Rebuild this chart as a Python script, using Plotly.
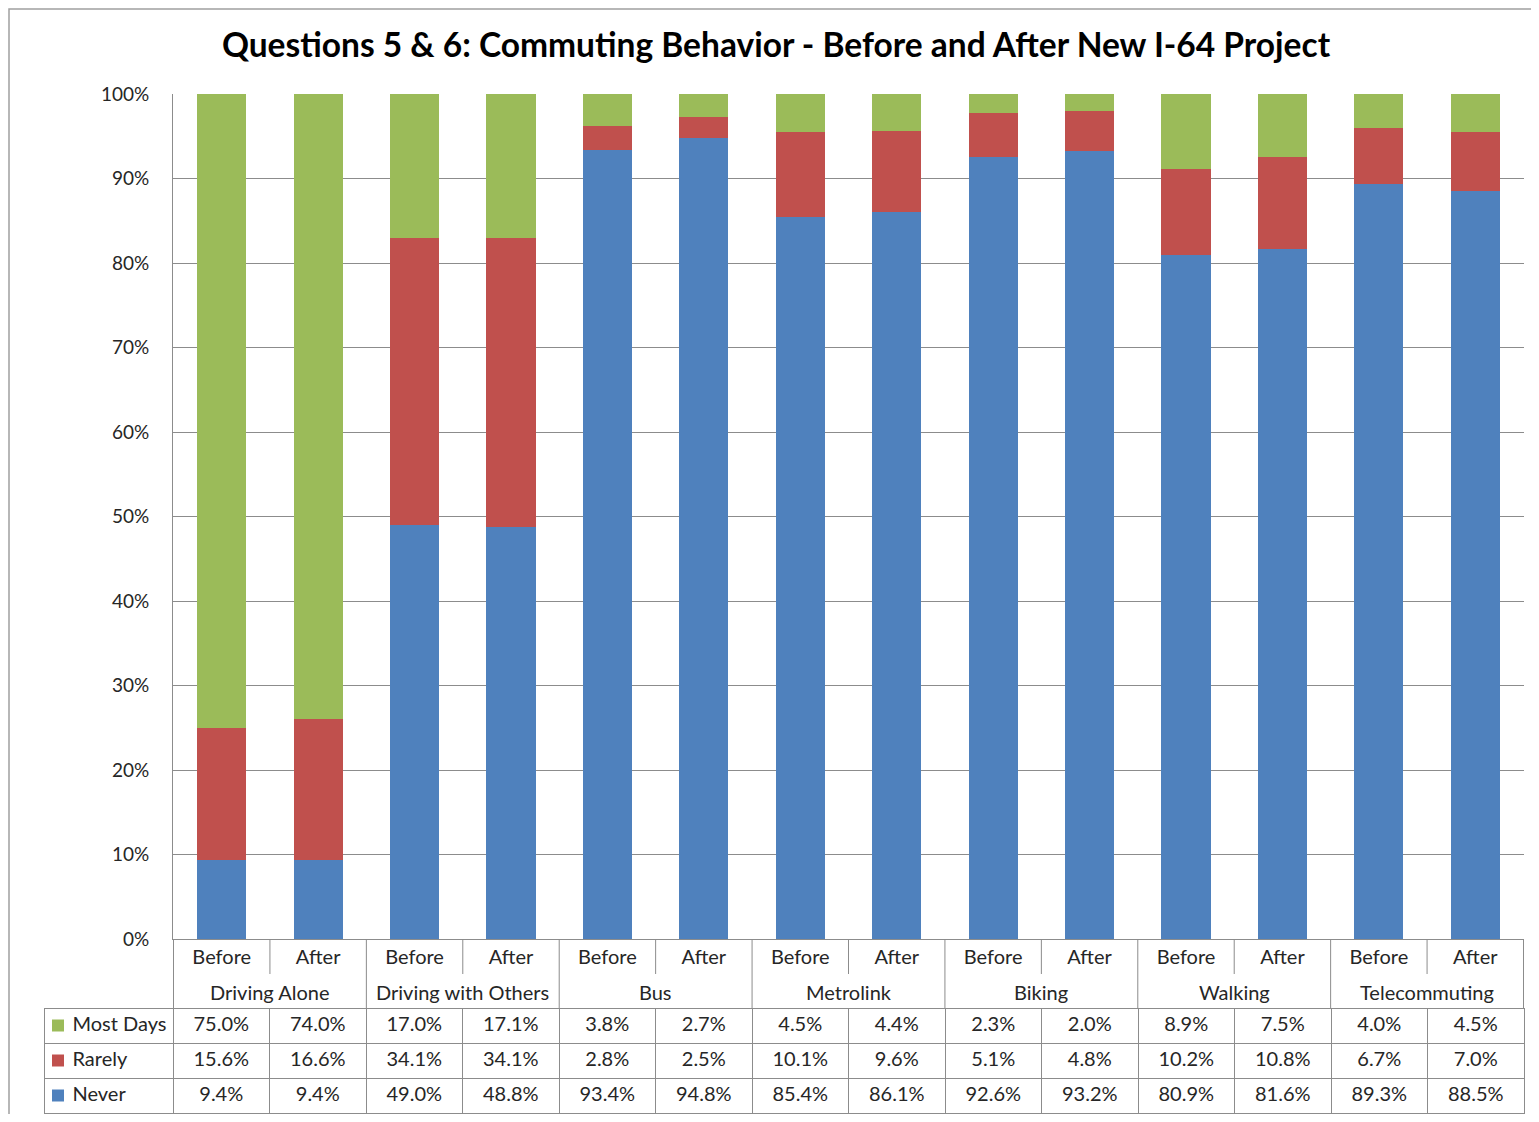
"""Commuting behaviour before/after the I-64 project: 100% stacked columns with a data table."""

import plotly.graph_objects as go

MODES = ["Driving Alone", "Driving with Others", "Bus", "Metrolink", "Biking", "Walking", "Telecommuting"]
PERIODS = ["Before", "After"]
SERIES = ["Most Days", "Rarely", "Never"]

most_days = [75.0, 74.0, 17.0, 17.1, 3.8, 2.7, 4.5, 4.4, 2.3, 2.0, 8.9, 7.5, 4.0, 4.5]
rarely = [15.6, 16.6, 34.1, 34.1, 2.8, 2.5, 10.1, 9.6, 5.1, 4.8, 10.2, 10.8, 6.7, 7.0]
never = [9.4, 9.4, 49.0, 48.8, 93.4, 94.8, 85.4, 86.1, 92.6, 93.2, 80.9, 81.6, 89.3, 88.5]

COLORS = {"Most Days": "#9BBB59", "Rarely": "#C0504D", "Never": "#4F81BD"}
FONT = "Lato, 'Open Sans', sans-serif"
TEXT = "#262626"
GRID = "#8c8c8c"

# the page body has an 8px margin on every side, so the figure starts at (8, 8)
# and must leave 8px below it to keep the page at 1122px tall
OFF = 8
W, H = 1539 - OFF, 1122 - 2 * OFF
ML, MR, MT, MB = 44 - OFF, W - (1524 - OFF), 94 - OFF, 0
PW, PH = W - ML - MR, H - MT - MB
ROW_H = 35


def px_x(x):
    """Window pixel x -> paper fraction."""
    return (x - OFF - ML) / PW


def px_y(y):
    """Window pixel y -> paper fraction."""
    return (H - MB - (y - OFF)) / PH


def main() -> None:
    keys = [f"{m} {p}" for m in MODES for p in PERIODS]
    values = {"Most Days": most_days, "Rarely": rarely, "Never": never}

    fig = go.Figure()
    for name in ["Never", "Rarely", "Most Days"]:
        fig.add_trace(
            go.Bar(
                x=keys,
                y=values[name],
                name=name,
                marker=dict(color=COLORS[name], line=dict(width=0)),
                showlegend=False,
            )
        )

    # series names; non-breaking spaces leave room for the swatch and stop wrapping
    lead = "\u00a0" * 4
    labels = [lead + s.replace(" ", "\u00a0") for s in SERIES]
    fmt = lambda v: f"{v:.1f}%"
    header_vals = [labels[0]] + [fmt(v) for v in most_days]
    cell_cols = [labels[1:]] + [[fmt(r), fmt(n)] for r, n in zip(rarely, never)]
    col_w = (1524 - 173) / len(most_days)
    align = ["left"] + ["center"] * len(most_days)
    table_font = dict(family=FONT, size=20, color=TEXT)
    fig.add_trace(
        go.Table(
            domain=dict(x=[0, 1], y=[0, px_y(1008)]),
            columnwidth=[129] + [col_w] * len(most_days),
            header=dict(
                values=header_vals,
                height=ROW_H,
                fill_color="white",
                line=dict(color=GRID, width=1),
                align=align,
                font=table_font,
            ),
            cells=dict(
                values=cell_cols,
                height=ROW_H,
                fill_color="white",
                line=dict(color=GRID, width=1),
                align=align,
                font=table_font,
            ),
        )
    )

    # legend swatches in the first table column
    for i, name in enumerate(SERIES):
        yc = 1008 + ROW_H * (i + 0.5)
        fig.add_shape(
            type="rect", xref="paper", yref="paper",
            x0=px_x(52), x1=px_x(64), y0=px_y(yc + 6), y1=px_y(yc - 6),
            fillcolor=COLORS[name], line=dict(width=0),
        )

    # group labels under each Before/After pair, with separators
    for i, mode in enumerate(MODES):
        fig.add_annotation(
            x=2 * i + 0.5, xref="x", y=px_y(992), yref="paper",
            text=mode, showarrow=False, yanchor="middle",
            font=dict(family=FONT, size=20, color=TEXT),
        )
        fig.add_shape(
            type="line", xref="x", yref="paper",
            x0=2 * i + 0.5, x1=2 * i + 0.5, y0=px_y(974), y1=px_y(939),
            line=dict(color=GRID, width=1),
        )
    for i in range(len(MODES) + 1):
        fig.add_shape(
            type="line", xref="x", yref="paper",
            x0=2 * i - 0.5, x1=2 * i - 0.5, y0=px_y(1008), y1=px_y(939),
            line=dict(color=GRID, width=1),
        )

    fig.update_layout(
        width=W,
        height=H,
        margin=dict(l=ML, r=MR, t=MT, b=MB, autoexpand=False),
        paper_bgcolor="white",
        plot_bgcolor="white",
        barmode="stack",
        barnorm="percent",
        bargap=0.49,
        font=dict(family=FONT, size=20, color=TEXT),
        title=dict(
            text="<b>Questions 5 & 6: Commuting Behavior - Before and After New I-64 Project</b>",
            x=(776 - OFF) / W,
            xanchor="center",
            y=1 - (45 - OFF) / H,
            yanchor="middle",
            font=dict(family=FONT, size=33.5, color="black"),
        ),
        xaxis=dict(
            type="category",
            domain=[px_x(173), 1],
            tickmode="array",
            tickvals=keys,
            ticktext=PERIODS * len(MODES),
            showline=True,
            linecolor=GRID,
            ticks="",
            ticklabelstandoff=0,
            automargin=False,
            tickfont=dict(family=FONT, size=20, color=TEXT),
        ),
        yaxis=dict(
            domain=[px_y(939), 1],
            range=[0, 100],
            dtick=10,
            ticksuffix="%",
            showgrid=True,
            gridcolor=GRID,
            gridwidth=1,
            showline=True,
            linecolor=GRID,
            zeroline=False,
            ticks="",
            ticklabelstandoff=19,
            automargin=False,
            tickfont=dict(family=FONT, size=19, color=TEXT),
        ),
    )

    # outer chart frame (left and top edges visible)
    fig.add_shape(
        type="rect", xref="paper", yref="paper",
        x0=px_x(9), x1=px_x(1560), y0=px_y(1140), y1=px_y(9),
        line=dict(color="#a0a0a0", width=1.5), layer="below",
    )

    fig.write_html("out.html")


if __name__ == "__main__":
    main()
